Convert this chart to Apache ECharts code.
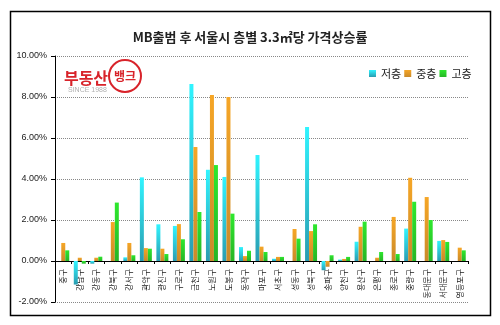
<!DOCTYPE html>
<html>
<head>
<meta charset="utf-8">
<script src="https://cdn.jsdelivr.net/npm/echarts@6/dist/echarts.min.js"></script>
<style>
html,body{margin:0;padding:0;background:#fff;}
#c{width:500px;height:325px;}
</style>
</head>
<body>
<div id="c"></div>
<script>
var categories = ['중구','강남구','강동구','강북구','강서구','관악구','광진구','구로구','금천구','노원구','도봉구','동작구','마포구','서초구','성동구','성북구','송파구','양천구','용산구','은평구','종로구','중랑구','동대문구','서대문구','영등포구'];
var lowFloor  = [0, -1.15, -0.13, 0, 0.18, 4.08, 1.79, 1.71, 8.63, 4.45, 4.10, 0.68, 5.17, 0.11, 0, 6.54, -0.45, 0.07, 0.94, 0, 0, 1.58, 0, 0.98, 0];
var midFloor  = [0.88, 0.16, 0.16, 1.90, 0.88, 0.63, 0.60, 1.80, 5.56, 8.10, 8.00, 0.24, 0.70, 0.20, 1.56, 1.46, -0.28, 0.10, 1.67, 0.16, 2.15, 4.06, 3.12, 1.02, 0.65];
var highFloor = [0.52, -0.13, 0.21, 2.85, 0.28, 0.60, 0.34, 1.06, 2.39, 4.68, 2.31, 0.50, 0.44, 0.20, 1.09, 1.79, 0.28, 0.20, 1.92, 0.44, 0.34, 2.89, 2.00, 0.93, 0.52];
var seriesNames = ['저층','중층','고층'];
var titleText = 'MB출범 후 서울시 층별 3.3㎡당 가격상승률';
var yMin = -2, yMax = 10, yStep = 2;

function grad(top, bottom){
  return {type:'linear', x:0, y:0, x2:0, y2:1, colorStops:[{offset:0, color:top},{offset:1, color:bottom}]};
}
var gridTop = 56, gridBottom = 23, H = 325;
var plotH = H - gridTop - gridBottom;
// move the category axis up from the grid bottom to the zero line
var zeroOffset = -plotH * (0 - yMin) / (yMax - yMin);

var chart = echarts.init(document.getElementById('c'), null, {renderer:'canvas'});
var cjk = '"Noto Sans CJK KR", "Noto Sans", sans-serif';
chart.setOption({
  backgroundColor:'#ffffff',
  animation:false,
  title:{
    text:titleText, left:'center', top:26,
    textStyle:{fontFamily:cjk, fontSize:13, fontWeight:'bold', color:'#222'}
  },
  legend:{
    data:seriesNames, left:364, top:63, icon:'rect',
    itemWidth:7, itemHeight:7, itemGap:3,
    textStyle:{fontFamily:cjk, fontSize:11, color:'#222'}
  },
  grid:{left:55, right:32, top:gridTop, bottom:gridBottom, containLabel:false, outerBoundsMode:'none'},
  xAxis:{
    type:'category', data:categories, position:'bottom', offset:zeroOffset,
    axisLine:{onZero:false, lineStyle:{color:'#000', width:1}},
    axisTick:{show:true, length:3, lineStyle:{color:'#000'}},
    axisLabel:{interval:0, rotate:90, margin:8, fontFamily:cjk, fontSize:8, color:'#222', hideOverlap:false},
    splitLine:{show:false}
  },
  yAxis:{
    type:'value', min:yMin, max:yMax, interval:yStep,
    axisLine:{show:true, lineStyle:{color:'#000', width:1}},
    axisTick:{show:true, length:4, lineStyle:{color:'#000'}},
    axisLabel:{margin:8, fontFamily:'"Liberation Sans", Arial, sans-serif', fontSize:9, color:'#222',
      formatter:function(v){return v.toFixed(2)+'%';}},
    splitLine:{show:true, lineStyle:{color:'#888', type:'dotted', width:1}}
  },
  series:[
    {name:seriesNames[0], type:'bar', data:lowFloor, barWidth:4, barGap:'0%',
     itemStyle:{color:grad('#30F4FF','#2A9CB0')}},
    {name:seriesNames[1], type:'bar', data:midFloor, barWidth:4, barGap:'0%',
     itemStyle:{color:grad('#F6A626','#C98A2A')}},
    {name:seriesNames[2], type:'bar', data:highFloor, barWidth:4, barGap:'0%',
     itemStyle:{color:grad('#2EE82E','#26B526')}}
  ],
  graphic:[
    {type:'rect', silent:true, shape:{x:10.5, y:11.5, width:480, height:304}, style:{fill:null, stroke:'#000', lineWidth:1.5}},
    {type:'text', silent:true, x:86, y:78, style:{text:'부동산', align:'center', verticalAlign:'middle', fill:'#D8232A', font:'bold 16px "Noto Sans CJK KR", sans-serif'}},
    {type:'circle', silent:true, shape:{cx:125, cy:76, r:16}, style:{fill:'#fff', stroke:'#D8232A', lineWidth:2}},
    {type:'text', silent:true, x:125, y:76, style:{text:'뱅크', align:'center', verticalAlign:'middle', fill:'#D8232A', font:'bold 12px "Noto Sans CJK KR", sans-serif'}},
    {type:'text', silent:true, x:68, y:90, style:{text:'SINCE 1988', verticalAlign:'middle', fill:'#B0B0B0', font:'7px "Liberation Sans", sans-serif'}}
  ]
});
</script>
</body>
</html>
